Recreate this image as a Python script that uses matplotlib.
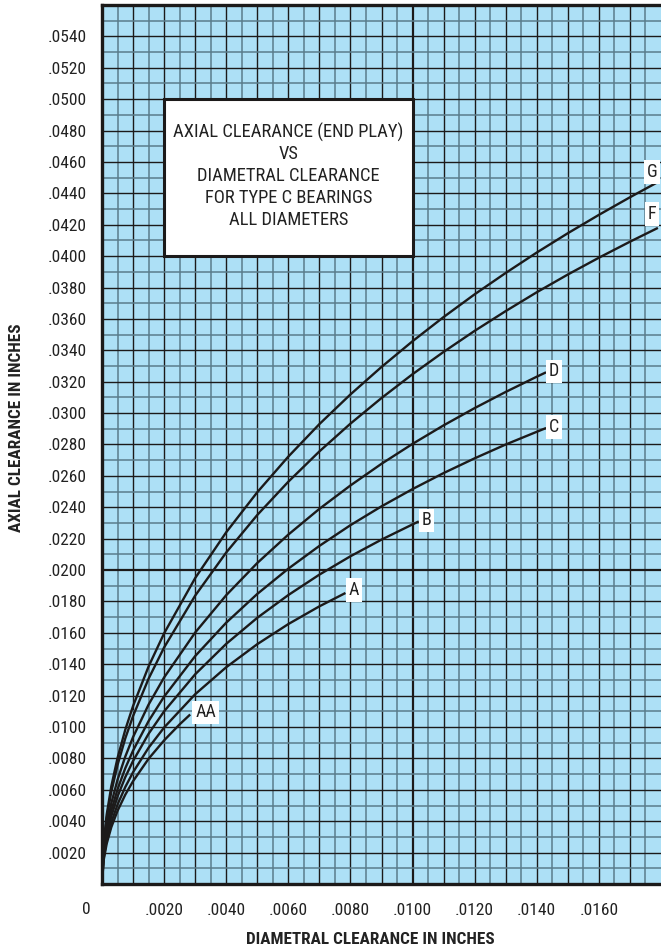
import numpy as np
import matplotlib
matplotlib.use("Agg")
import matplotlib.pyplot as plt
from matplotlib.patches import Rectangle
from matplotlib import font_manager

# ---- data (values in thousandths of an inch) ----
x_full = [0, 0.05, 0.15, 0.3, 0.5, 0.75, 1, 1.5, 2, 3, 4, 5, 6, 7, 8, 9, 10, 11, 12, 13, 14, 15, 16, 17, 17.9]
g_vals = [0, 2.55, 4.41, 6.23, 8.03, 9.83, 11.34, 13.86, 15.97, 19.49, 22.41, 24.96, 27.23, 29.30,
          31.19, 32.94, 34.58, 36.12, 37.57, 38.93, 40.23, 41.46, 42.63, 43.75, 44.72]
f_vals = [0, 2.40, 4.16, 5.88, 7.58, 9.28, 10.70, 13.08, 15.07, 18.37, 21.12, 23.51, 25.63, 27.56,
          29.33, 30.96, 32.48, 33.90, 35.24, 36.50, 37.70, 38.83, 39.90, 40.92, 41.80]

x_d = [0, 0.05, 0.15, 0.3, 0.5, 0.75, 1, 1.5, 2, 3, 4, 5, 6, 7, 8, 9, 10, 11, 12, 13, 14, 14.3]
d_vals = [0, 2.11, 3.64, 5.15, 6.64, 8.12, 9.36, 11.43, 13.16, 16.02, 18.40, 20.45, 22.26, 23.90,
          25.39, 26.77, 28.04, 29.22, 30.32, 31.35, 32.32, 32.60]
c_vals = [0, 1.91, 3.31, 4.68, 6.03, 7.38, 8.50, 10.38, 11.94, 14.52, 16.65, 18.48, 20.09, 21.54,
          22.86, 24.06, 25.16, 26.18, 27.12, 28.00, 28.81, 29.05]

x_b = [0, 0.05, 0.15, 0.3, 0.5, 0.75, 1, 1.5, 2, 3, 4, 5, 6, 7, 8, 9, 10, 10.2]
b_vals = [0, 1.77, 3.06, 4.32, 5.57, 6.81, 7.84, 9.57, 11.00, 13.36, 15.30, 16.96, 18.41, 19.71,
          20.88, 21.94, 22.91, 23.10]

x_a = [0, 0.05, 0.15, 0.3, 0.5, 0.75, 1, 1.5, 2, 3, 4, 5, 6, 7, 7.84]
a_vals = [0, 1.61, 2.78, 3.93, 5.06, 6.18, 7.12, 8.68, 9.97, 12.09, 13.81, 15.28, 16.56, 17.69, 18.54]

x_aa = [0, 0.05, 0.15, 0.3, 0.5, 0.75, 1, 1.5, 2, 2.5, 2.84]
aa_vals = [0, 1.48, 2.56, 3.62, 4.66, 5.69, 6.55, 7.98, 9.15, 10.17, 10.80]

curve_names = ["G", "F", "D", "C", "B", "A", "AA"]
curve_x = [x_full, x_full, x_d, x_d, x_b, x_a, x_aa]
curve_y = [g_vals, f_vals, d_vals, c_vals, b_vals, a_vals, aa_vals]

x_ticks = [0.002, 0.004, 0.006, 0.008, 0.010, 0.012, 0.014, 0.016]
x_tick_labels = [".0020", ".0040", ".0060", ".0080", ".0100", ".0120", ".0140", ".0160"]
y_ticks = [0.002 * i for i in range(1, 28)]
y_tick_labels = ["." + f"{v:.4f}".split(".")[1] for v in y_ticks]

title_lines = ["AXIAL CLEARANCE (END PLAY)", "VS", "DIAMETRAL CLEARANCE",
               "FOR TYPE C BEARINGS", "ALL DIAMETERS"]

# ---- styling ----
available = {f.name for f in font_manager.fontManager.ttflist}
NARROW = [f for f in ["Liberation Sans Narrow", "DejaVu Sans Condensed", "Roboto Condensed",
                      "Roboto", "DejaVu Sans"] if f in available]
BG = "#ade0f6"
GRAY = "#5a7c8b"
BLACK = "#1c1a1a"
TXT = "#222222"

fig = plt.figure(figsize=(6.61, 9.51), dpi=100)
ax = fig.add_axes([102 / 661, 67 / 951, 1 - 102 / 661, 879 / 951])
ax.set_facecolor(BG)
ax.set_xlim(0, 0.018)
ax.set_ylim(0, 0.056)

# grid
for xv in np.arange(0.0005, 0.018, 0.0005):
    k = int(round(xv / 0.0005))
    if k % 2 == 0:
        lw = 1.6 if k == 20 else 1.0
        ax.axvline(xv, color=BLACK, lw=lw, zorder=1)
    else:
        ax.axvline(xv, color=GRAY, lw=1.1, zorder=1)
for yv in np.arange(0.001, 0.056, 0.001):
    k = int(round(yv / 0.001))
    if k % 2 == 0:
        lw = 1.6 if k == 20 else 1.0
        ax.axhline(yv, color=BLACK, lw=lw, zorder=1)
    else:
        ax.axhline(yv, color=GRAY, lw=1.1, zorder=1)

# curves
label_offsets = {"G": (-6, 10, "center"), "F": (-6, 14, "center"),
                 "D": (3, 1, "left"), "C": (3, 1, "left"), "B": (3, 1, "left"),
                 "A": (3, 3, "left"), "AA": (5, 2, "left")}
for name, xs, ys in zip(curve_names, curve_x, curve_y):
    xs = np.array(xs) / 1000.0
    ys = np.array(ys) / 1000.0
    ax.plot(xs, ys, color=BLACK, lw=1.7, zorder=4, solid_capstyle="butt")
    dx, dy, ha = label_offsets[name]
    ax.annotate(name, (xs[-1], ys[-1]), xytext=(dx, dy), textcoords="offset pixels",
                ha=ha, va="center", fontsize=13, family=NARROW, color=TXT,
                bbox=dict(boxstyle="square,pad=0.15", fc="white", ec="none"),
                zorder=6, annotation_clip=False)

# title box
ax.add_patch(Rectangle((0.002, 0.040), 0.008, 0.010, facecolor="white",
                       edgecolor=BLACK, lw=2.2, zorder=5))
for i, line in enumerate(title_lines):
    ax.text(0.006, 0.0479 - i * 0.0014, line, ha="center", va="center",
            fontsize=13.3, family=NARROW, color=TXT, zorder=6)

# axes
for s in ["left", "bottom", "top"]:
    ax.spines[s].set_linewidth(2.4)
    ax.spines[s].set_color(BLACK)
ax.spines["right"].set_visible(False)
ax.spines["left"].set_zorder(7)
ax.spines["bottom"].set_zorder(7)

ax.set_xticks(x_ticks)
ax.set_xticklabels(x_tick_labels)
ax.set_yticks(y_ticks)
ax.set_yticklabels(y_tick_labels)
ax.tick_params(axis="both", length=0, labelsize=12.5, colors=TXT)
ax.tick_params(axis="y", pad=11)
ax.tick_params(axis="x", pad=14)
for lab in ax.get_xticklabels() + ax.get_yticklabels():
    lab.set_family(NARROW)

fig.text(86 / 661, 1 - 909 / 951, "0", ha="center", va="center", fontsize=12.5,
         family=NARROW, color=TXT)
fig.text(370 / 661, 1 - 940 / 951, "DIAMETRAL CLEARANCE IN INCHES", ha="center",
         va="center", fontsize=12.3, fontweight="bold", family=NARROW, color=TXT)
fig.text(17 / 661, 1 - 428 / 951, "AXIAL CLEARANCE IN INCHES", ha="center",
         va="center", rotation=90, fontsize=12.3, fontweight="bold", family=NARROW,
         color=TXT)

fig.savefig("out.png", dpi=100)
